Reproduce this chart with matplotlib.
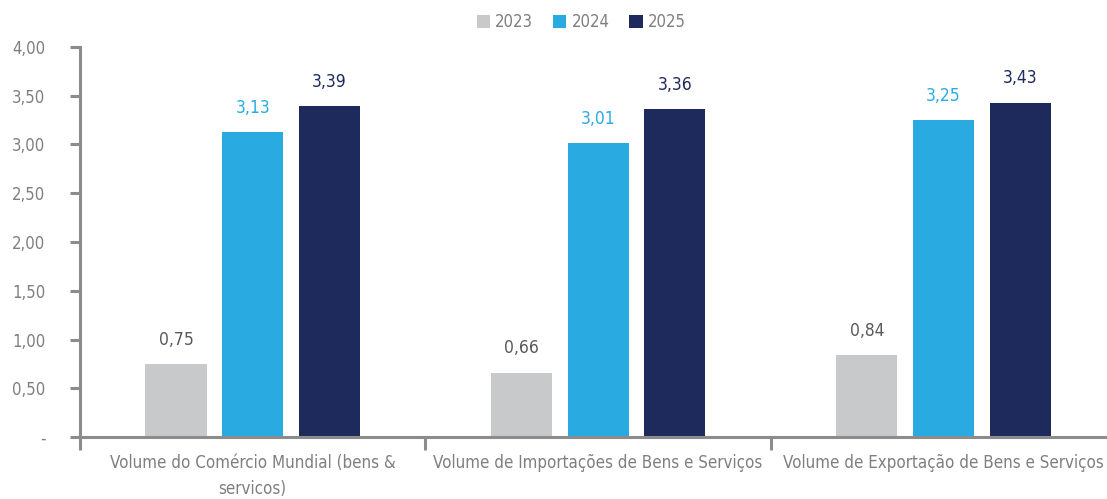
import matplotlib.pyplot as plt
import numpy as np
from matplotlib import font_manager

categorias = ["Volume do Comércio Mundial (bens &\nservicos)",
              "Volume de Importações de Bens e Serviços",
              "Volume de Exportação de Bens e Serviços"]
anos = ["2023", "2024", "2025"]
v2023 = [0.75, 0.66, 0.84]
v2024 = [3.13, 3.01, 3.25]
v2025 = [3.39, 3.36, 3.43]
yticks = [0, 0.5, 1.0, 1.5, 2.0, 2.5, 3.0, 3.5, 4.0]

nomes = {f.name for f in font_manager.fontManager.ttflist}
fonte = "Liberation Sans Narrow" if "Liberation Sans Narrow" in nomes else "DejaVu Sans"
plt.rcParams["font.family"] = [fonte, "DejaVu Sans"]
plt.rcParams["font.stretch"] = "condensed"

cores = ["#C8C9CB", "#29ABE2", "#1F2A5C"]
cores_txt = ["#595959", "#29ABE2", "#1F2A5C"]
cinza = "#8C8C8C"

fig = plt.figure(figsize=(11.07, 4.99), dpi=100)
ax = fig.add_axes([0.0723, 0.124, 0.936, 0.782])

x = np.arange(len(categorias))
w = 0.177
passo = 0.222
series = [v2023, v2024, v2025]
for i, (vals, cor, ct, ano) in enumerate(zip(series, cores, cores_txt, anos)):
    pos = x + (i - 1) * passo
    barras = ax.bar(pos, vals, width=w, color=cor, label=ano, zorder=2)
    for b, v in zip(barras, vals):
        ax.annotate(f"{v:.2f}".replace(".", ","), (b.get_x() + b.get_width() / 2, v),
                    xytext=(0, 11), textcoords="offset points", ha="center", va="bottom",
                    fontsize=12.5, color=ct)

ax.set_xlim(-0.5, 2.5)
ax.set_ylim(0, 4)
ax.set_yticks(yticks)
ax.set_yticklabels(["-"] + [f"{t:.2f}".replace(".", ",") for t in yticks[1:]])
ax.set_xticks(x)
ax.set_xticklabels(categorias, fontsize=12.2, color="#7F7F7F", linespacing=1.6)
ax.tick_params(axis="x", length=0, pad=12)
ax.set_xticks([-0.5, 0.5, 1.5], minor=True)
ax.tick_params(axis="x", which="minor", length=9, width=2.2, color=cinza, direction="out")
ax.tick_params(axis="y", length=7, width=2.2, color=cinza, labelsize=12, labelcolor="#7F7F7F", pad=18)

for lado in ["top", "right"]:
    ax.spines[lado].set_visible(False)
for lado in ["left", "bottom"]:
    ax.spines[lado].set_color(cinza)
    ax.spines[lado].set_linewidth(2.2)

fig.legend(loc="center", bbox_to_anchor=(0.525, 0.955), ncol=3, frameon=False,
           fontsize=12, labelcolor="#7F7F7F", handlelength=0.8, handleheight=0.8,
           handletextpad=0.3, columnspacing=1.2)

fig.savefig("out.png", dpi=100)
